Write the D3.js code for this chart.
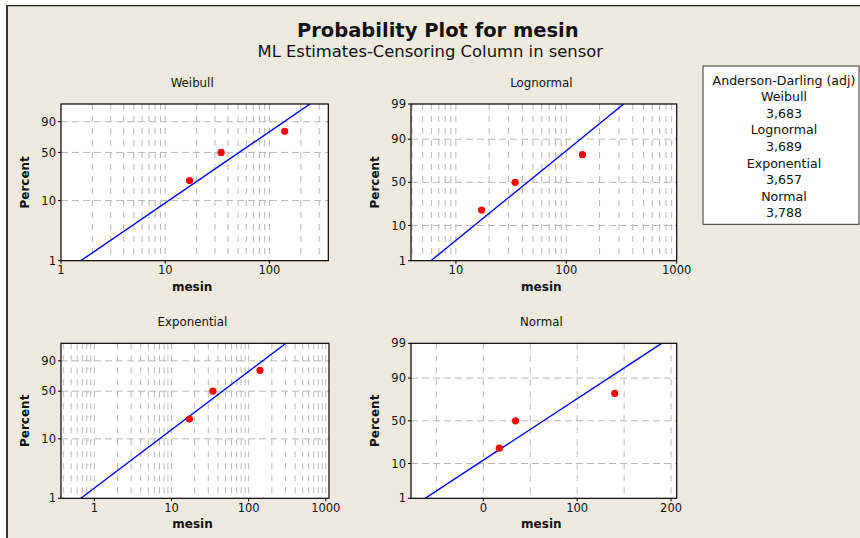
<!DOCTYPE html>
<html><head><meta charset="utf-8">
<script src="https://cdn.jsdelivr.net/npm/d3@7"></script>
<style>
html,body{margin:0;padding:0;background:#fff;}
svg text{font-family:"DejaVu Sans",Verdana,sans-serif;fill:#111;}
</style></head>
<body><svg id="c" width="860" height="538"></svg>
<script>
// ---- data ----
const titleText = "Probability Plot for mesin";
const subtitleText = "ML Estimates-Censoring Column in sensor";
const panelNames = ["Weibull", "Lognormal", "Exponential", "Normal"];
const mesinValues = [17.1, 34.4, 140];
const plotPercents = [20.6, 50, 79.4];
const yTicksWeibull = [1, 10, 50, 90];
const yTicksLognormal = [1, 10, 50, 90, 99];
const yTicksExponential = [1, 10, 50, 90];
const yTicksNormal = [1, 10, 50, 90, 99];
const yGridPercents = [10, 50, 90];
const xTicksWeibull = [1, 10, 100];
const xTicksLognormal = [10, 100, 1000];
const xTicksExponential = [1, 10, 100, 1000];
const xTicksNormal = [0, 100, 200];
const xGridNormal = [-50, 0, 50, 100, 150, 200];
const xDomainWeibull = [1, 367];
const xDomainLognormal = [3.92, 1000];
const xDomainExponential = [0.37, 1100];
const xDomainNormal = [-77, 206];
const percentDomain = [1, 99];
// fitted line end points [mesin, percent]
const fitWeibull = [[1.55, 1], [245, 99]];
const fitLognormal = [[5.94, 1], [331, 99]];
const fitExponential = [[0.67, 1], [305, 99]];
const fitNormal = [[-62, 1], [190, 99]];
const adHeader = "Anderson-Darling (adj)";
const adNames = ["Weibull", "Lognormal", "Exponential", "Normal"];
const adValues = ["3,683", "3,689", "3,657", "3,788"];

// ---- helpers ----
function probit(p){
  const a=[-3.969683028665376e+01,2.209460984245205e+02,-2.759285104469687e+02,1.383577518672690e+02,-3.066479806614716e+01,2.506628277459239e+00];
  const b=[-5.447609879822406e+01,1.615858368580409e+02,-1.556989798598866e+02,6.680131188771972e+01,-1.328068155288572e+01];
  const c=[-7.784894002430293e-03,-3.223964580411365e-01,-2.400758277161838e+00,-2.549671010229528e+00,4.374664141464968e+00,2.938163982698783e+00];
  const d=[7.784695709041462e-03,3.224671290700398e-01,2.445134137142996e+00,3.754408661907416e+00];
  const pl=0.02425, ph=1-pl; let q,r;
  if(p<pl){q=Math.sqrt(-2*Math.log(p));return (((((c[0]*q+c[1])*q+c[2])*q+c[3])*q+c[4])*q+c[5])/((((d[0]*q+d[1])*q+d[2])*q+d[3])*q+1);}
  if(p<=ph){q=p-0.5;r=q*q;return (((((a[0]*r+a[1])*r+a[2])*r+a[3])*r+a[4])*r+a[5])*q/(((((b[0]*r+b[1])*r+b[2])*r+b[3])*r+b[4])*r+1);}
  q=Math.sqrt(-2*Math.log(1-p));return -(((((c[0]*q+c[1])*q+c[2])*q+c[3])*q+c[4])*q+c[5])/((((d[0]*q+d[1])*q+d[2])*q+d[3])*q+1);
}
const weib = pc => Math.log(-Math.log(1 - pc/100));
const norm = pc => probit(pc/100);

const svg = d3.select("#c");
// background frame
svg.append("rect").attr("x",7).attr("y",6).attr("width",853).attr("height",532).attr("fill","#EEEAE0");
svg.append("line").attr("x1",6).attr("x2",860).attr("y1",5.6).attr("y2",5.6).attr("stroke","#1a1a1a").attr("stroke-width",1.3);
svg.append("line").attr("x1",7).attr("x2",7).attr("y1",5).attr("y2",538).attr("stroke","#333").attr("stroke-width",2);

svg.append("text").attr("x",437.8).attr("y",37).attr("text-anchor","middle")
  .style("font-size","19.5px").style("font-weight","bold").text(titleText);
svg.append("text").attr("x",430.3).attr("y",57).attr("text-anchor","middle")
  .style("font-size","16.4px").text(subtitleText);

const panels = [
  {name:panelNames[0], x0:61, x1:328.3, y0:104, y1:260.7, xType:"log", xDomain:xDomainWeibull, xTicks:xTicksWeibull, yT:weib, yTicks:yTicksWeibull, fit:fitWeibull},
  {name:panelNames[1], x0:411, x1:676.7, y0:104, y1:260.7, xType:"log", xDomain:xDomainLognormal, xTicks:xTicksLognormal, yT:norm, yTicks:yTicksLognormal, fit:fitLognormal},
  {name:panelNames[2], x0:61, x1:329, y0:343.3, y1:498.3, xType:"log", xDomain:xDomainExponential, xTicks:xTicksExponential, yT:weib, yTicks:yTicksExponential, fit:fitExponential},
  {name:panelNames[3], x0:411, x1:676.7, y0:343.3, y1:498.3, xType:"lin", xDomain:xDomainNormal, xTicks:xTicksNormal, yT:norm, yTicks:yTicksNormal, fit:fitNormal, xGrid:xGridNormal}
];

const gridColor = "#b8b8b8";
panels.forEach((p,i) => {
  const x = (p.xType==="log" ? d3.scaleLog() : d3.scaleLinear()).domain(p.xDomain).range([p.x0,p.x1]);
  const ty = d3.scaleLinear().domain([p.yT(percentDomain[0]), p.yT(percentDomain[1])]).range([p.y1,p.y0]);
  const y = pc => ty(p.yT(pc));
  const g = svg.append("g");
  const clipId = "clip"+i;
  svg.append("clipPath").attr("id",clipId).append("rect")
    .attr("x",p.x0).attr("y",p.y0).attr("width",p.x1-p.x0).attr("height",p.y1-p.y0);
  g.append("rect").attr("x",p.x0).attr("y",p.y0).attr("width",p.x1-p.x0).attr("height",p.y1-p.y0).attr("fill","#fff");

  // vertical gridlines
  let xg;
  if(p.xType==="log"){ xg = x.ticks(20).filter(v => v>p.xDomain[0]*1.0001 && v<p.xDomain[1]*0.9999); }
  else { xg = p.xGrid; }
  g.append("g").selectAll("line").data(xg).join("line")
    .attr("x1",d=>x(d)).attr("x2",d=>x(d)).attr("y1",p.y0).attr("y2",p.y1)
    .attr("stroke",gridColor).attr("stroke-width",1).attr("stroke-dasharray","6,6");
  // horizontal gridlines
  g.append("g").selectAll("line").data(yGridPercents).join("line")
    .attr("x1",p.x0).attr("x2",p.x1).attr("y1",d=>y(d)).attr("y2",d=>y(d))
    .attr("stroke",gridColor).attr("stroke-width",1).attr("stroke-dasharray","7,4");

  // fitted line
  g.append("path").attr("clip-path",`url(#${clipId})`)
    .attr("d", d3.line().x(d=>x(d[0])).y(d=>y(d[1]))(p.fit))
    .attr("fill","none").attr("stroke","#0000ff").attr("stroke-width",1.4);

  // points
  g.append("g").selectAll("circle").data(mesinValues.map((v,k)=>[v,plotPercents[k]])).join("circle")
    .attr("cx",d=>x(d[0])).attr("cy",d=>y(d[1])).attr("r",3.6).attr("fill","#ff0000");

  // frame
  g.append("rect").attr("x",p.x0).attr("y",p.y0).attr("width",p.x1-p.x0).attr("height",p.y1-p.y0)
    .attr("fill","none").attr("stroke","#000").attr("stroke-width",1.2);

  // y ticks
  const yt = g.append("g");
  yt.selectAll("line").data(p.yTicks).join("line")
    .attr("x1",p.x0-3).attr("x2",p.x0).attr("y1",d=>y(d)).attr("y2",d=>y(d)).attr("stroke","#000");
  yt.selectAll("text").data(p.yTicks).join("text")
    .attr("x",p.x0-5).attr("y",d=>y(d)).attr("dy","0.36em").attr("text-anchor","end")
    .style("font-size","11.5px").text(d=>d);
  // x ticks
  const xt = g.append("g");
  xt.selectAll("line").data(p.xTicks).join("line")
    .attr("x1",d=>x(d)).attr("x2",d=>x(d)).attr("y1",p.y1).attr("y2",p.y1+3).attr("stroke","#000");
  xt.selectAll("text").data(p.xTicks).join("text")
    .attr("x",d=>x(d)).attr("y",p.y1+13.6).attr("text-anchor","middle")
    .style("font-size","11.5px").text(d=>d);

  // labels
  const cx = (p.x0+p.x1)/2 - 2.5;
  g.append("text").attr("x",cx).attr("y",p.y0-17.5).attr("text-anchor","middle")
    .style("font-size","11.8px").text(p.name);
  g.append("text").attr("x",cx).attr("y",p.y1+30).attr("text-anchor","middle")
    .style("font-size","12px").style("font-weight","bold").text("mesin");
  g.append("text").attr("transform",`translate(${p.x0-36},${(p.y0+p.y1)/2}) rotate(-90)`)
    .attr("text-anchor","middle").attr("dy","0.36em")
    .style("font-size","12px").style("font-weight","bold").text("Percent");
});

// Anderson-Darling box
const lg = svg.append("g");
lg.append("rect").attr("x",703).attr("y",66).attr("width",156).attr("height",158.3)
  .attr("fill","#fff").attr("stroke","#333").attr("stroke-width",1);
const rows = [adHeader];
adNames.forEach((n,k)=>{rows.push(n); rows.push(adValues[k]);});
lg.selectAll("text.ad").data(rows).join("text").attr("class","ad")
  .attr("x",784).attr("y",(d,k)=>84.5+k*16.6).attr("text-anchor","middle")
  .style("font-size","12.6px").text(d=>d);
</script></body></html>
